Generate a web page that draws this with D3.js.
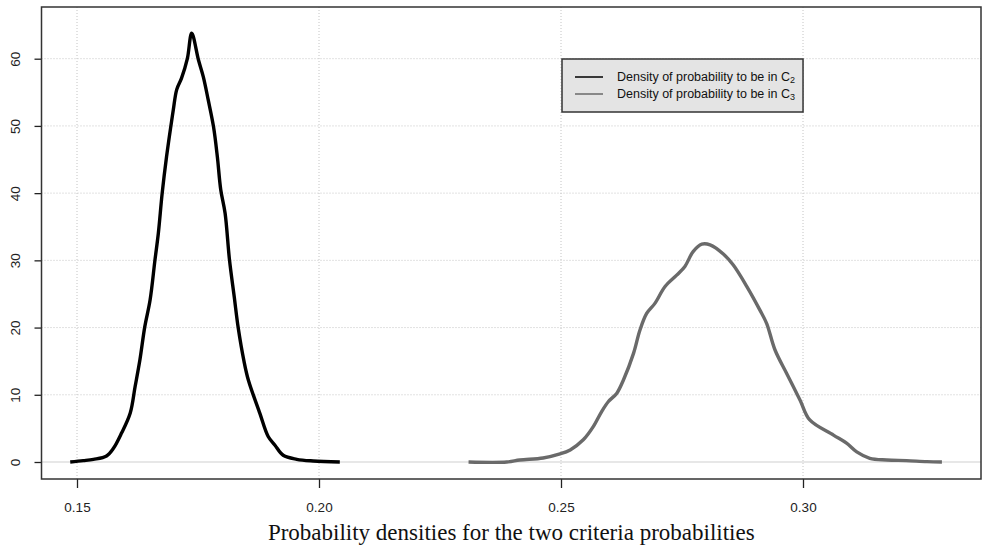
<!DOCTYPE html>
<html>
<head>
<meta charset="utf-8">
<script src="https://cdn.jsdelivr.net/npm/d3@7"></script>
<style>
  body { margin: 0; background: #fff; }
  text { font-family: "Liberation Sans", Arial, sans-serif; }
</style>
</head>
<body>
<svg id="chart" width="983" height="548"></svg>
<script>
// density of probability to be in C2 (black curve)
const c2X = [0.1486, 0.1513, 0.1534, 0.1561, 0.1575, 0.1592, 0.1610, 0.1620, 0.1630, 0.1640,
  0.1651, 0.1661, 0.1668, 0.1676, 0.1685, 0.1694, 0.1699, 0.1706, 0.1716, 0.1728, 0.1737,
  0.1751, 0.1761, 0.1771, 0.1782, 0.1790, 0.1797, 0.1806, 0.1815, 0.1825, 0.1833, 0.1845,
  0.1854, 0.1878, 0.1895, 0.1909, 0.1926, 0.1954, 0.1988, 0.2043];
const c2Y = [0, 0.2, 0.4, 0.9, 2.0, 4.3, 7.3, 11.2, 15.2, 20.1,
  24.1, 30, 34, 40, 45.4, 50, 52.4, 55.4, 57.1, 60, 63.8,
  59.8, 57.3, 53.9, 49.9, 45.4, 40.5, 37, 30.1, 24.5, 20, 15,
  12.2, 7.2, 3.8, 2.5, 1.0, 0.4, 0.15, 0];

// density of probability to be in C3 (grey curve)
const c3X = [0.2309, 0.2388, 0.2415, 0.2463, 0.2498, 0.2519, 0.2546, 0.2567, 0.2584, 0.2598,
  0.2615, 0.2629, 0.2650, 0.2663, 0.2677, 0.2694, 0.2715, 0.2739, 0.2756, 0.2773, 0.2791,
  0.2808, 0.2836, 0.2856, 0.2884, 0.2911, 0.2925, 0.2942, 0.2966, 0.2994, 0.3014, 0.3063,
  0.3090, 0.3111, 0.3138, 0.3173, 0.3214, 0.3256, 0.3287];
const c3Y = [0, 0, 0.3, 0.6, 1.2, 1.8, 3.3, 5.3, 7.5, 9.0,
  10.2, 12.2, 16.2, 19.6, 22.1, 23.6, 26.1, 27.8, 29.1, 31.3, 32.4,
  32.3, 30.9, 29.3, 26.1, 22.6, 20.6, 16.7, 13.2, 9.2, 6.25, 4.0,
  2.8, 1.5, 0.55, 0.3, 0.2, 0.05, 0];

const xTicks = [0.15, 0.20, 0.25, 0.30];
const yTicks = [0, 10, 20, 30, 40, 50, 60];
const legendLabels = [["Density of probability to be in C", "2"], ["Density of probability to be in C", "3"]];
const seriesColors = ["#000000", "#6a6a6a"];
const xTitle = "Probability densities for the two criteria probabilities";

const svg = d3.select('#chart');
const plot = { left: 41.5, right: 981, top: 7, bottom: 479 };

const x = d3.scaleLinear().domain([0.15, 0.30]).range([77, 803]);
x.domain([x.invert(plot.left), x.invert(plot.right)]).range([plot.left, plot.right]);
const y = d3.scaleLinear().domain([0, 60]).range([462, 58.7]);
y.domain([y.invert(plot.bottom), y.invert(plot.top)]).range([plot.bottom, plot.top]);

// grid
const grid = svg.append('g').attr('class', 'grid');
grid.selectAll('.vgrid').data(xTicks).enter().append('line')
  .attr('x1', d => x(d)).attr('x2', d => x(d))
  .attr('y1', plot.top).attr('y2', plot.bottom)
  .attr('stroke', '#c4c4c4').attr('stroke-dasharray', '1,2');
grid.selectAll('.hgrid').data(yTicks.filter(d => d > 0)).enter().append('line')
  .attr('x1', plot.left).attr('x2', plot.right)
  .attr('y1', d => y(d)).attr('y2', d => y(d))
  .attr('stroke', '#c4c4c4').attr('stroke-dasharray', '1,2');
grid.append('line')
  .attr('x1', plot.left).attr('x2', plot.right)
  .attr('y1', y(0)).attr('y2', y(0))
  .attr('stroke', '#cfcfcf').attr('stroke-width', 1);

// curves
const line = d3.line().x(d => x(d[0])).y(d => y(d[1])).curve(d3.curveCatmullRom);
const series = [d3.zip(c2X, c2Y), d3.zip(c3X, c3Y)];
svg.selectAll('.curve').data(series).enter().append('path')
  .attr('class', 'curve')
  .attr('d', line)
  .attr('fill', 'none')
  .attr('stroke', (d, i) => seriesColors[i])
  .attr('stroke-width', 3.4)
  .attr('stroke-linejoin', 'round');

// axes
const xAxis = d3.axisBottom(x).tickValues(xTicks).tickFormat(d3.format('.2f')).tickSize(9).tickPadding(14);
const gx = svg.append('g').attr('transform', `translate(0,${plot.bottom})`).call(xAxis);
gx.select('.domain').remove();
gx.selectAll('.tick line').attr('stroke', '#222').attr('stroke-width', 1.3);
gx.selectAll('.tick text').attr('font-size', 13.5).attr('fill', '#222');

const yAxis = d3.axisLeft(y).tickValues(yTicks).tickSize(7);
const gy = svg.append('g').attr('transform', `translate(${plot.left},0)`).call(yAxis);
gy.select('.domain').remove();
gy.selectAll('.tick line').attr('stroke', '#222').attr('stroke-width', 1.3);
gy.selectAll('.tick text')
  .attr('font-size', 13.5).attr('fill', '#222')
  .attr('x', 0).attr('dy', 0)
  .attr('text-anchor', 'middle')
  .attr('transform', 'translate(-26,0) rotate(-90)')
  .attr('dominant-baseline', 'central');

// frame
svg.append('rect')
  .attr('x', plot.left).attr('y', plot.top)
  .attr('width', plot.right - plot.left).attr('height', plot.bottom - plot.top)
  .attr('fill', 'none').attr('stroke', '#333').attr('stroke-width', 1.5);

// legend
const legend = svg.append('g').attr('class', 'legend');
const legBox = legend.append('rect')
  .attr('x', 562).attr('y', 59)
  .attr('fill', '#e4e4e4').attr('stroke', '#333').attr('stroke-width', 1.5);
const rows = legend.selectAll('.row').data(legendLabels).enter().append('g')
  .attr('transform', (d, i) => `translate(0,${77 + i * 17})`);
rows.append('line')
  .attr('x1', 575).attr('x2', 603)
  .attr('stroke', (d, i) => seriesColors[i]).attr('stroke-width', 1.5);
const rowText = rows.append('text')
  .attr('x', 617).attr('dy', '0.35em')
  .attr('font-size', 12.5).attr('fill', '#111');
rowText.append('tspan').text(d => d[0]);
rowText.append('tspan').attr('font-size', 9).attr('dy', 2).text(d => d[1]);
let maxW = 0;
rowText.each(function () { maxW = Math.max(maxW, this.getComputedTextLength()); });
legBox.attr('width', 617 + maxW + 8 - 562).attr('height', 112 - 59);

// x title
svg.append('text')
  .attr('x', (plot.left + plot.right) / 2).attr('y', 540)
  .attr('text-anchor', 'middle')
  .style('font-family', '"Liberation Serif", "Times New Roman", serif')
  .attr('font-size', 23).attr('fill', '#111')
  .text(xTitle);
</script>
</body>
</html>
